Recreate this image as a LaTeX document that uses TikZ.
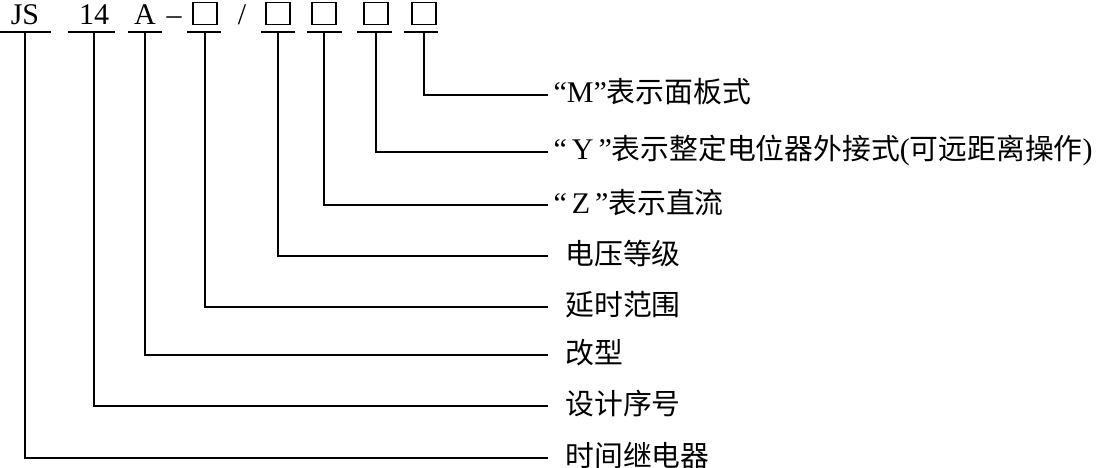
\documentclass[tikz,border=0pt]{standalone}
\usepackage{fontspec}
\setmainfont{Liberation Serif}
\newfontfamily\cjk[Scale=0.96]{Noto Sans CJK SC}
\usetikzlibrary{positioning}

\begin{document}
\begin{tikzpicture}[x=1pt, y=-1pt, line width=1.1pt,
  font=\fontsize{30}{36}\selectfont,
  codigo/.style={anchor=base, inner sep=0pt},
  casilla/.style={draw, minimum width=24pt, minimum height=22pt, inner sep=0pt, anchor=south},
  etiqueta/.style={anchor=west, inner xsep=5pt, inner ysep=0pt, text height=20pt, text depth=4pt},
  etiquetacjk/.style={etiqueta, inner xsep=17pt}]
  \useasboundingbox (0,0) rectangle (1119,468);
  \coordinate (ul) at (0,32);
  % model code
  \node[codigo] (js) at (25,25) {JS};
  \node[codigo] (n14) at (94,25) {14};
  \node[codigo] (a) at (145,25) {A};
  \node[codigo] (guion) at (174,25) {–};
  \node[casilla] (b1) at (205,25) {};
  \node[codigo] (barra) at (242,25) {/};
  \node[casilla] (b2) at (278,25) {};
  \node[casilla] (b3) at (324,25) {};
  \node[casilla] (b4) at (376,25) {};
  \node[casilla] (b5) at (424,25) {};
  \foreach \a/\b in {0/51,68/115,128/162,187/221,261/295,307/342,357/392,404/438}
    \draw (\a,32) -- (\b,32);
  % meanings
  \node[etiqueta] (lm) at (548,95) {“M”{\cjk 表示面板式}};
  \node[etiqueta] (ly) at (548,152) {“\,Y\,”{\cjk 表示整定电位器外接式}({\cjk 可远距离操作})};
  \node[etiqueta] (lz) at (548,205) {“\,Z\,”{\cjk 表示直流}};
  \node[etiquetacjk] (lv) at (548,256) {\cjk 电压等级};
  \node[etiquetacjk] (lt) at (548,307) {\cjk 延时范围};
  \node[etiquetacjk] (lg) at (548,355) {\cjk 改型};
  \node[etiquetacjk] (ls) at (548,406) {\cjk 设计序号};
  \node[etiquetacjk] (lj) at (548,458) {\cjk 时间继电器};
  \foreach \c/\l in {b5/lm, b4/ly, b3/lz, b2/lv, b1/lt, a/lg, n14/ls, js/lj}
    \draw (\c |- ul) |- (\l.west);
\end{tikzpicture}
\end{document}
